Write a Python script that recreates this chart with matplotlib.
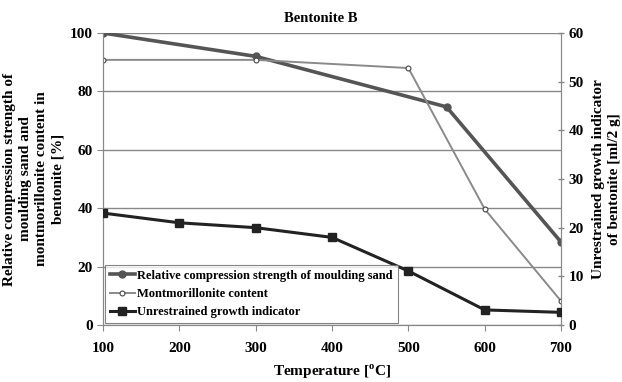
import numpy as np
import matplotlib.pyplot as plt

plt.rcParams['font.family'] = ['Liberation Serif', 'DejaVu Serif']
plt.rcParams['font.weight'] = 'bold'
plt.rcParams['axes.labelweight'] = 'bold'
plt.rcParams['axes.titleweight'] = 'bold'

temp_strength = [100, 300, 550, 700]
strength = [100, 92, 74.7, 28.4]
temp_mont = [100, 300, 500, 600, 700]
mont = [90.8, 90.8, 88, 39.7, 8.2]
temp_growth = [100, 200, 300, 400, 500, 600, 700]
growth = [23.0, 21.0, 20.0, 18.0, 11.1, 3.1, 2.6]

fig = plt.figure(figsize=(6.22, 3.82), dpi=100)
ax = fig.add_axes([0.1656, 0.1492, 0.7364, 0.7644])
ax2 = ax.twinx()

l1, = ax.plot(temp_strength, strength, color='#555555', lw=2.6, marker='o', ms=5,
              label='Relative compression strength of moulding sand', zorder=3)
l2, = ax.plot(temp_mont, mont, color='#8a8a8a', lw=1.4, marker='o', ms=3.5,
              mfc='white', mec='#444444', mew=0.8, label='Montmorillonite content', zorder=3)
l3, = ax2.plot(temp_growth, growth, color='#222222', lw=2.2, marker='s', ms=6,
               label='Unrestrained growth indicator', zorder=3)

ax.set_xlim(100, 700)
ax.set_ylim(0, 100)
ax2.set_ylim(0, 60)
ax.set_xticks(range(100, 701, 100))
ax.set_yticks(range(0, 101, 20))
ax2.set_yticks(range(0, 61, 10))
ax.yaxis.grid(True, color='#888888', lw=1)
ax.set_axisbelow(True)

for a in (ax, ax2):
    for s in a.spines.values():
        s.set_color('#888888')
    a.spines['top'].set_visible(False)
ax.tick_params(colors='#888888', labelcolor='black', labelsize=11, length=4)
ax.tick_params(axis='x', pad=8)
ax2.tick_params(colors='#888888', labelcolor='black', labelsize=11, length=4, direction='inout', width=1)

ax.set_title('Bentonite B', fontsize=10.5, pad=8, x=0.475)
ax.set_xlabel('Temperature [$^\\mathregular{o}$C]', fontsize=11, labelpad=6)
ax.set_ylabel('Relative compression strength of\nmoulding sand and\nmontmorillonite content in\nbentonite [%]',
              fontsize=11, linespacing=1.3, labelpad=4)
ax2.set_ylabel('Unrestrained growth indicator\nof bentonite [ml/2 g]', fontsize=11,
               linespacing=1.3, labelpad=6)

leg = ax2.legend(handles=[l1, l2, l3], loc='lower left', fontsize=9, frameon=True,
                 fancybox=False, edgecolor='#666666', borderaxespad=0.15, handlelength=2,
                 handletextpad=0.2, labelspacing=0.5, borderpad=0.4)
leg.get_frame().set_linewidth(0.8)

fig.savefig('out.png', dpi=100)
